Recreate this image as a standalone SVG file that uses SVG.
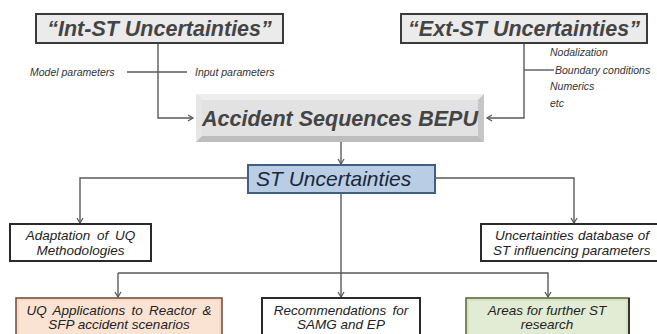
<svg xmlns="http://www.w3.org/2000/svg" width="657" height="334" viewBox="0 0 657 334">
<defs>
<marker id="arr" markerWidth="8" markerHeight="8" refX="6" refY="4" orient="auto" markerUnits="userSpaceOnUse">
<path d="M1,1 L6,4 L1,7" fill="none" stroke="#555" stroke-width="1.2"/>
</marker>
<style>
.ln{fill:none;stroke:#5a5a5a;stroke-width:1.4}
.title{font-family:"Liberation Sans",Arial,sans-serif;font-weight:bold;font-style:italic;fill:#444;font-size:21.5px}
.bx{font-family:"Liberation Sans",Arial,sans-serif;font-style:italic;fill:#222;font-size:13.5px}
.sm{font-family:"Liberation Sans",Arial,sans-serif;font-style:italic;fill:#333;font-size:10.5px}
</style>
</defs>
<rect width="657" height="334" fill="#fff"/>
<g id="connectors">
<path class="ln" d="M158,43 V118 H193" marker-end="url(#arr)"/>
<path class="ln" d="M127,72 H187"/>
<path class="ln" d="M524,43 V118 H487" marker-end="url(#arr)"/>
<path class="ln" d="M524,70 H554"/>
<path class="ln" d="M341,134 V164" marker-end="url(#arr)"/>
<path class="ln" d="M248,178 H80 V223" marker-end="url(#arr)"/>
<path class="ln" d="M435,178 H574 V223" marker-end="url(#arr)"/>
<path class="ln" d="M341,193 V297" marker-end="url(#arr)"/>
<path class="ln" d="M118,273 H548 V297" marker-end="url(#arr)"/>
<path class="ln" d="M118,273 V297" marker-end="url(#arr)"/>
</g>
<g id="labels">
<text class="sm" x="30" y="75.5">Model parameters</text>
<text class="sm" x="195" y="75.5">Input parameters</text>
<text class="sm" x="550" y="56">Nodalization</text>
<text class="sm" x="555" y="73.5">Boundary conditions</text>
<text class="sm" x="550" y="90">Numerics</text>
<text class="sm" x="550" y="107">etc</text>
</g>
<g id="int-st">
<rect x="36" y="14" width="247" height="29" fill="#ebebeb" stroke="#3a3a3a" stroke-width="2"/>
<text class="title" x="159.5" y="35.5" text-anchor="middle">“Int-ST Uncertainties”</text>
</g>
<g id="ext-st">
<rect x="401" y="14" width="246" height="29" fill="#ebebeb" stroke="#3a3a3a" stroke-width="2"/>
<text class="title" x="524" y="35.5" text-anchor="middle">“Ext-ST Uncertainties”</text>
</g>
<g id="accident-bepu">
<rect x="196" y="94" width="288" height="48" fill="#e2e2e2"/>
<polygon points="196,94 484,94 478,100 202,100" fill="#ededed"/>
<polygon points="196,94 202,100 202,136 196,142" fill="#e6e6e6"/>
<polygon points="484,94 484,142 478,136 478,100" fill="#c6c6c6"/>
<polygon points="196,142 484,142 478,136 202,136" fill="#bdbdbd"/>
<text class="title" x="340" y="126" text-anchor="middle" font-size="21.2">Accident Sequences BEPU</text>
</g>
<g id="st-uncertainties">
<rect x="248" y="165" width="187" height="28" fill="#b9cde5" stroke="#3f5f86" stroke-width="2"/>
<text x="256" y="186" font-family="Liberation Sans, Arial, sans-serif" font-style="italic" font-size="21" fill="#1c2838">ST Uncertainties</text>
</g>
<g id="adaptation-uq">
<rect x="10" y="224" width="141" height="37" fill="#fff" stroke="#2a2a2a" stroke-width="2"/>
<text class="bx" x="80.5" y="240" text-anchor="middle" word-spacing="3">Adaptation of UQ</text>
<text class="bx" x="80.5" y="255" text-anchor="middle">Methodologies</text>
</g>
<g id="uncertainties-database">
<rect x="481" y="224" width="178" height="37" fill="#fff" stroke="#2a2a2a" stroke-width="2"/>
<text class="bx" x="495" y="240" word-spacing="0.5">Uncertainties database of</text>
<text class="bx" x="493" y="255">ST influencing parameters</text>
</g>
<g id="uq-applications">
<rect x="16" y="298" width="206" height="44" fill="#f8d9c4" stroke="#6a4a3a" stroke-width="1.5"/>
<rect x="19" y="301" width="200" height="40" fill="#fbe3d4"/>
<text class="bx" x="119" y="314.5" text-anchor="middle" word-spacing="2.5">UQ Applications to Reactor &amp;</text>
<text class="bx" x="119" y="328.5" text-anchor="middle">SFP accident scenarios</text>
</g>
<g id="recommendations">
<rect x="262" y="298" width="158" height="44" fill="#fff" stroke="#2a2a2a" stroke-width="2"/>
<text class="bx" x="341" y="314.5" text-anchor="middle" word-spacing="2.5">Recommendations for</text>
<text class="bx" x="341" y="328.5" text-anchor="middle">SAMG and EP</text>
</g>
<g id="areas-research">
<rect x="466" y="298" width="163" height="44" fill="#d7e3bf" stroke="#55633a" stroke-width="1.5"/>
<rect x="469" y="301" width="157" height="40" fill="#e2ebd3"/>
<line x1="629" y1="298" x2="629" y2="334" stroke="#333" stroke-width="2"/>
<text class="bx" x="547" y="314.5" text-anchor="middle" fill="#333">Areas for further ST</text>
<text class="bx" x="547" y="328.5" text-anchor="middle" fill="#333">research</text>
</g>
</svg>
